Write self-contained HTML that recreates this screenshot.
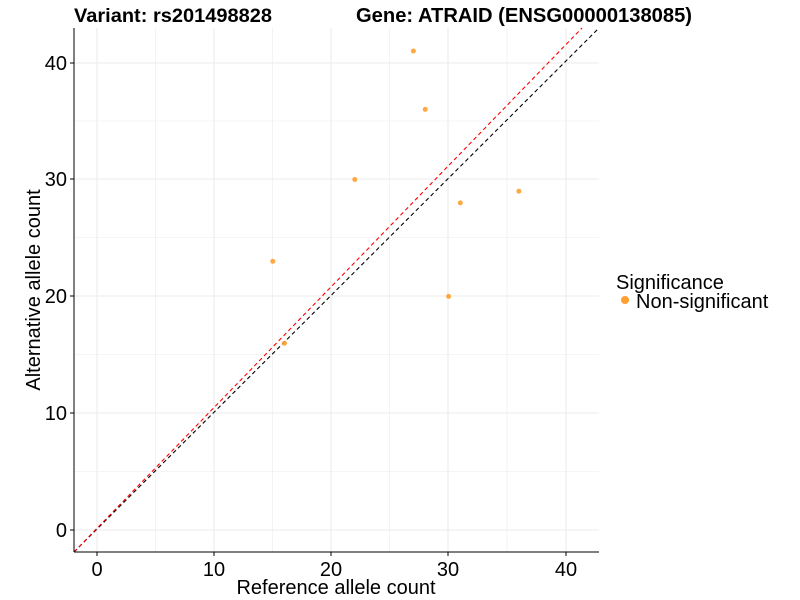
<!DOCTYPE html>
<html><head><meta charset="utf-8"><style>body{margin:0;background:#fff}svg{display:block}text{font-family:"Liberation Sans",Arial,sans-serif}</style></head><body>
<svg width="800" height="600" viewBox="0 0 800 600">
<g stroke="#ebebeb" stroke-width="0.6">
<line x1="155.5" y1="28" x2="155.5" y2="552"/><line x1="272.5" y1="28" x2="272.5" y2="552"/><line x1="389.5" y1="28" x2="389.5" y2="552"/><line x1="507" y1="28" x2="507" y2="552"/>
<line x1="74" y1="471.5" x2="599" y2="471.5"/><line x1="74" y1="354.5" x2="599" y2="354.5"/><line x1="74" y1="237.5" x2="599" y2="237.5"/><line x1="74" y1="121" x2="599" y2="121"/>
</g>
<g stroke="#ebebeb" stroke-width="1.1">
<line x1="97" y1="28" x2="97" y2="552"/><line x1="214" y1="28" x2="214" y2="552"/><line x1="331" y1="28" x2="331" y2="552"/><line x1="448" y1="28" x2="448" y2="552"/><line x1="566" y1="28" x2="566" y2="552"/>
<line x1="74" y1="530" x2="599" y2="530"/><line x1="74" y1="413" x2="599" y2="413"/><line x1="74" y1="296" x2="599" y2="296"/><line x1="74" y1="179" x2="599" y2="179"/><line x1="74" y1="63" x2="599" y2="63"/>
</g>
<line x1="74" y1="552" x2="599" y2="28" stroke="#000" stroke-width="1.1" stroke-dasharray="4,3"/>
<line x1="74" y1="552" x2="582" y2="28" stroke="#f00" stroke-width="1.1" stroke-dasharray="4,3"/>
<g fill="#ffa030" opacity="0.9">
<circle cx="272.8" cy="261.3" r="2.5"/><circle cx="284.5" cy="343.2" r="2.5"/><circle cx="354.8" cy="179.5" r="2.5"/><circle cx="413.4" cy="51" r="2.5"/><circle cx="425.2" cy="109.4" r="2.5"/><circle cx="448.6" cy="296.4" r="2.5"/><circle cx="460.3" cy="202.9" r="2.5"/><circle cx="518.9" cy="191.2" r="2.5"/>
</g>
<line x1="74" y1="28" x2="74" y2="552" stroke="#000" stroke-width="1"/>
<line x1="74" y1="552" x2="599" y2="552" stroke="#000" stroke-width="1"/>
<g stroke="#000"><line x1="97" y1="552" x2="97" y2="556"/><line x1="214" y1="552" x2="214" y2="556"/><line x1="331" y1="552" x2="331" y2="556"/><line x1="448" y1="552" x2="448" y2="556"/><line x1="566" y1="552" x2="566" y2="556"/>
<line x1="70" y1="530" x2="74" y2="530"/><line x1="70" y1="413" x2="74" y2="413"/><line x1="70" y1="296" x2="74" y2="296"/><line x1="70" y1="179" x2="74" y2="179"/><line x1="70" y1="63" x2="74" y2="63"/></g>
<g font-size="20" fill="#000" text-anchor="middle">
<text x="97" y="576">0</text><text x="214" y="576">10</text><text x="331" y="576">20</text><text x="448" y="576">30</text><text x="566" y="576">40</text>
</g>
<g font-size="20" fill="#000" text-anchor="end">
<text x="67" y="537">0</text><text x="67" y="420">10</text><text x="67" y="303">20</text><text x="67" y="186">30</text><text x="67" y="70">40</text>
</g>
<text x="336" y="594" font-size="20" text-anchor="middle">Reference allele count</text>
<text transform="translate(40,290) rotate(-90)" font-size="20" text-anchor="middle">Alternative allele count</text>
<text x="74" y="22" font-size="19" font-weight="bold" textLength="198" lengthAdjust="spacingAndGlyphs">Variant: rs201498828</text>
<text x="356" y="22" font-size="20" font-weight="bold" textLength="336" lengthAdjust="spacingAndGlyphs">Gene: ATRAID (ENSG00000138085)</text>
<text x="616" y="289" font-size="20">Significance</text>
<circle cx="625" cy="300" r="4" fill="#ffa030"/>
<text x="636" y="308" font-size="20">Non-significant</text>
</svg>
</body></html>
